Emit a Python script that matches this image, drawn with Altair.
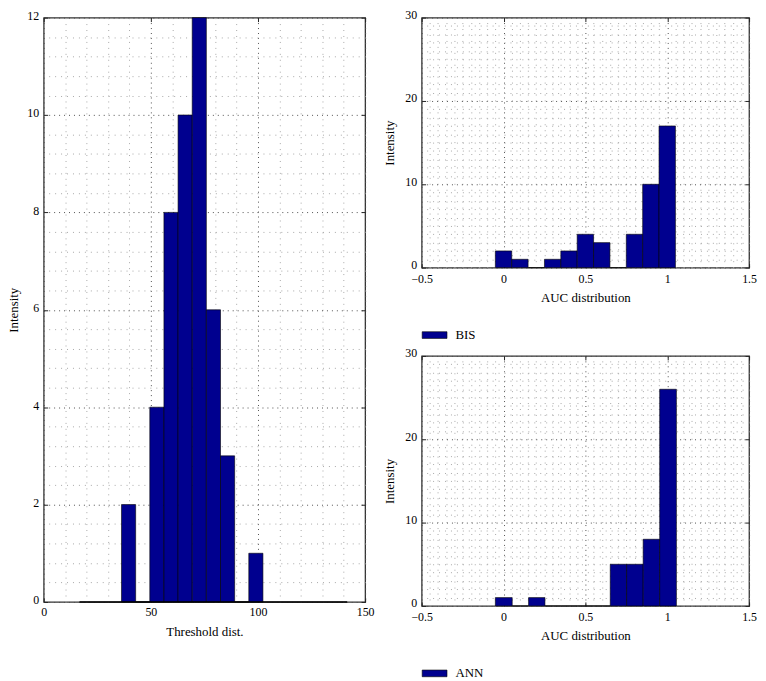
import altair as alt
import pandas as pd

# ---------------- data ----------------
# Left panel: threshold distance histogram
thr_start = [36.3, 42.9, 49.5, 56.1, 62.7, 69.3, 75.9, 82.5, 89.1, 95.7]
thr_end = [42.9, 49.5, 56.1, 62.7, 69.3, 75.9, 82.5, 89.1, 95.7, 102.3]
thr_count = [2, 0, 4, 8, 10, 12, 6, 3, 0, 1]
thr_baseline = [16.7, 141.6]

# Top-right panel: BIS AUC distribution
bis_start = [-0.05, 0.05, 0.15, 0.25, 0.35, 0.45, 0.55, 0.65, 0.75, 0.85, 0.95]
bis_end = [0.05, 0.15, 0.25, 0.35, 0.45, 0.55, 0.65, 0.75, 0.85, 0.95, 1.05]
bis_count = [2, 1, 0, 1, 2, 4, 3, 0, 4, 10, 17]

# Bottom-right panel: ANN AUC distribution
ann_start = [-0.05, 0.053, 0.153, 0.253, 0.353, 0.453, 0.553, 0.652, 0.752, 0.853, 0.954]
ann_end = [0.053, 0.153, 0.253, 0.353, 0.453, 0.553, 0.652, 0.752, 0.853, 0.954, 1.056]
ann_count = [1, 0, 1, 0, 0, 0, 0, 5, 5, 8, 26]

# axis ticks / grid values
thr_x_major = [0, 50, 100, 150]
thr_x_minor = [10, 20, 30, 40, 60, 70, 80, 90, 110, 120, 130, 140]
thr_y_major = [0, 2, 4, 6, 8, 10, 12]
thr_y_minor = [v / 10 for v in range(0, 121, 4) if v % 20 != 0]

auc_x_major = [-0.5, 0, 0.5, 1, 1.5]
auc_x_minor = [round(-0.5 + 0.05 * k, 3) for k in range(41) if k % 10 != 0]
auc_y_major = [0, 10, 20, 30]
auc_y_minor = [v for v in range(0, 31) if v % 10 != 0]

FONT = "Liberation Serif"
BAR = "#00008F"


def panel(start, end, count, xdom, ydom, xmaj, xmin_, ymaj, ymin_, w, h,
          xtitle, series=None, baseline=None, ytitle_pad=8, ylab_off=-2, xlab_pad=5):
    df = pd.DataFrame({"start": start, "end": end, "count": count})
    df["zero"] = 0
    if series:
        df["series"] = series
    base = alt.Chart(df)
    xs = alt.Scale(domain=xdom, nice=False, zero=False)
    ys = alt.Scale(domain=ydom, nice=False)

    def ax(orient, values, **kw):
        opts = dict(orient=orient, values=values, labels=False, ticks=False,
                    domain=False, grid=False, title=None, minExtent=0, maxExtent=0)
        opts.update(kw)
        return alt.Axis(**opts)

    # minor dotted grid
    minor = base.mark_rect(opacity=0).encode(
        x=alt.X("start:Q", scale=xs, axis=ax("top", xmin_, grid=True,
                gridColor="#a8a8a8", gridDash=[1, 5], gridWidth=1)),
        x2="end:Q",
        y=alt.Y("count:Q", scale=ys, axis=ax("right", ymin_, grid=True,
                gridColor="#a8a8a8", gridDash=[1, 5], gridWidth=1)),
        y2="zero:Q",
    )
    # inward ticks on top / right
    ticks_tr = base.mark_rect(opacity=0).encode(
        x=alt.X("start:Q", scale=xs, axis=ax("top", xmaj, ticks=True, tickSize=4,
                offset=-4, tickColor="#222222", tickWidth=1)),
        x2="end:Q",
        y=alt.Y("count:Q", scale=ys, axis=ax("right", ymaj, ticks=True, tickSize=4,
                offset=-4, tickColor="#222222", tickWidth=1)),
        y2="zero:Q",
    )
    # inward ticks on bottom / left
    ticks_bl = base.mark_rect(opacity=0).encode(
        x=alt.X("start:Q", scale=xs, axis=ax("bottom", xmaj, ticks=True, tickSize=4,
                offset=-4, tickColor="#222222", tickWidth=1)),
        x2="end:Q",
        y=alt.Y("count:Q", scale=ys, axis=ax("left", ymaj, ticks=True, tickSize=4,
                offset=-4, tickColor="#222222", tickWidth=1)),
        y2="zero:Q",
    )

    if series:
        color = alt.Color(
            "series:N",
            scale=alt.Scale(domain=[series], range=[BAR]),
            legend=alt.Legend(
                title=None, orient="none", legendX=0, legendY=h + 55,
                symbolType="M-1,-0.27H1V0.27H-1Z", symbolSize=625,
                symbolStrokeColor="black", symbolStrokeWidth=0.6,
                symbolOpacity=1, labelFont=FONT, labelFontSize=13,
                labelColor="black", labelOffset=8, padding=0,
            ),
        )
    else:
        color = alt.value(BAR)

    main = base.mark_rect(stroke="black", strokeWidth=0.6, opacity=1).encode(
        x=alt.X("start:Q", scale=xs, axis=alt.Axis(
            orient="bottom", values=xmaj, format="~r", title=xtitle,
            labelFont=FONT, titleFont=FONT, labelFontSize=12, titleFontSize=13,
            labelFlush=False, labelOverlap=False,
            ticks=False, domain=False, grid=True, gridColor="#505050",
            gridDash=[1, 4], gridWidth=1, labelPadding=xlab_pad,
            titlePadding=13 - xlab_pad)),
        x2="end:Q",
        y=alt.Y("count:Q", scale=ys, axis=alt.Axis(
            orient="left", values=ymaj, format="~r", title="Intensity",
            labelFont=FONT, titleFont=FONT, labelFontSize=12, titleFontSize=13,
            labelOverlap=False, labelOffset=ylab_off,
            ticks=False, domain=False, grid=True, gridColor="#505050",
            gridDash=[1, 4], gridWidth=1, labelPadding=5, titlePadding=ytitle_pad)),
        y2="zero:Q",
        color=color,
    )

    layers = [minor, ticks_tr, main, ticks_bl]
    if baseline:
        bdf = pd.DataFrame({"x0": [baseline[0]], "x1": [baseline[1]], "y0": [0]})
        rule = alt.Chart(bdf).mark_rule(color="black", strokeWidth=1.5).encode(
            x=alt.X("x0:Q", scale=xs, axis=None),
            x2="x1:Q",
            y=alt.Y("y0:Q", scale=ys, axis=None),
        )
        layers.append(rule)

    return alt.layer(*layers).resolve_axis(x="independent", y="independent").properties(
        width=w, height=h)


left = panel(thr_start, thr_end, thr_count, [0, 150], [0, 12],
             thr_x_major, thr_x_minor, thr_y_major, thr_y_minor,
             324, 589, "Threshold dist.", baseline=thr_baseline, ytitle_pad=6)

top = panel(bis_start, bis_end, bis_count, [-0.5, 1.5], [0, 30],
            auc_x_major, auc_x_minor, auc_y_major, auc_y_minor,
            330, 252, "AUC distribution", series="BIS", ylab_off=-3, xlab_pad=6)

bottom = panel(ann_start, ann_end, ann_count, [-0.5, 1.5], [0, 30],
               auc_x_major, auc_x_minor, auc_y_major, auc_y_minor,
               330, 252, "AUC distribution", series="ANN", ylab_off=-3, xlab_pad=6)

right = alt.vconcat(top, bottom, spacing=3).resolve_scale(
    color="independent").resolve_legend(color="independent")

chart = alt.hconcat(left, right, spacing=8).properties(
    padding={"left": -1, "top": -3, "right": 0, "bottom": 0}
).configure(
    font=FONT,
).configure_view(
    stroke="#333333", strokeWidth=1.3,
).configure_axis(
    labelFont=FONT, labelFontSize=12, labelColor="black",
    titleFont=FONT, titleFontSize=13, titleFontWeight="normal", titleColor="black",
)

chart.save("out.html", embed_options={"renderer": "svg", "actions": False})
